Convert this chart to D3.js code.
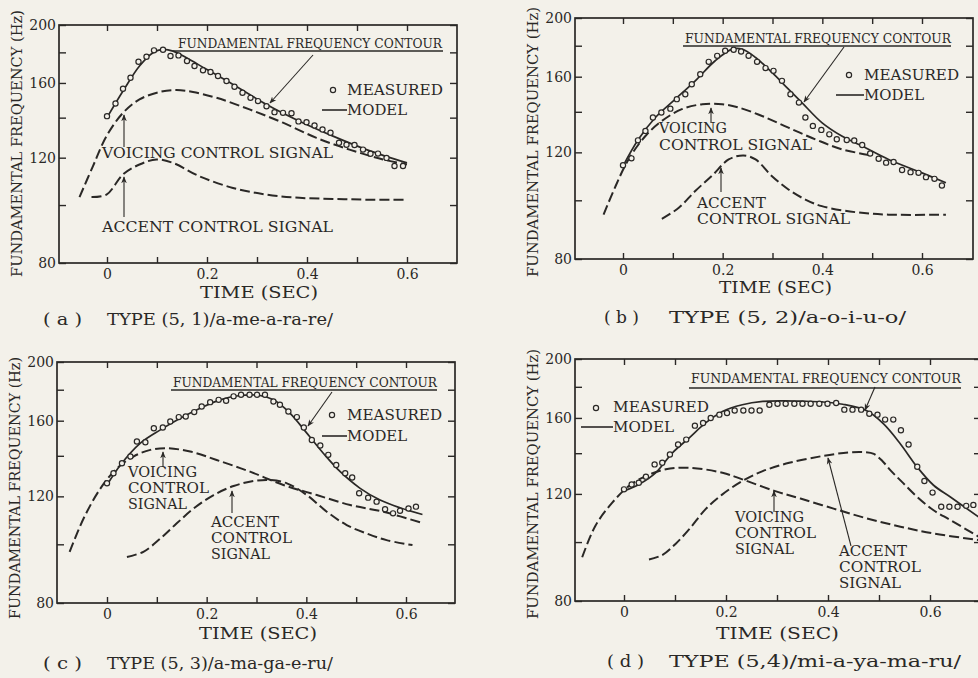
<!DOCTYPE html>
<html>
<head>
<meta charset="utf-8">
<script src="https://cdn.jsdelivr.net/npm/d3@7"></script>
<style>
  html, body { margin: 0; padding: 0; background: #f3f1ea; }
  svg { display: block; }
  text { font-family: "DejaVu Serif", "Liberation Serif", serif; fill: #2a2826; }
</style>
</head>
<body>
<svg id="chart" width="978" height="678"></svg>
<script>
// time (sec), fundamental frequency (Hz)
const measuredA = [[0,140.8],[0.017,147.8],[0.032,156.5],[0.047,163.2],[0.063,173.6],[0.079,177.0],[0.094,181.4],[0.112,181.8],[0.127,177.5],[0.143,177.9],[0.160,174.1],[0.175,170.8],[0.192,168.0],[0.207,166.9],[0.222,164.3],[0.239,161.2],[0.255,157.7],[0.271,154.1],[0.287,151.1],[0.302,149.2],[0.319,146.3],[0.335,143.0],[0.352,142.6],[0.369,142.4],[0.383,138.0],[0.399,137.6],[0.415,135.8],[0.431,133.8],[0.447,132.1],[0.464,127.1],[0.479,126.1],[0.495,126.0],[0.512,123.8],[0.527,121.8],[0.542,121.9],[0.559,119.9],[0.575,116.2],[0.592,116.2]];
const modelA = [[0,140.0],[0.032,155.1],[0.065,170.8],[0.092,179.8],[0.112,182.1],[0.132,180.9],[0.159,176.3],[0.199,168.6],[0.252,159.1],[0.319,147.3],[0.385,138.1],[0.452,130.4],[0.519,123.8],[0.6,117.6]];
const voicingA = [[-0.055,103.1],[-0.028,116.2],[-0.001,130.4],[0.032,142.6],[0.065,150.2],[0.105,154.5],[0.139,155.7],[0.172,154.5],[0.219,151.1],[0.285,144.5],[0.352,137.3],[0.419,129.5],[0.485,123.8],[0.552,119.2],[0.6,116.9]];
const accentA = [[-0.031,103.1],[-0.001,104.1],[0.032,112.5],[0.065,116.9],[0.099,119.2],[0.132,117.6],[0.185,111.7],[0.252,106.8],[0.319,104.1],[0.385,102.8],[0.452,102.4],[0.519,102.1],[0.6,102.1]];

const measuredB = [[0,114.3],[0.017,117.3],[0.030,125.6],[0.045,130.2],[0.060,137.0],[0.077,139.6],[0.095,141.7],[0.108,146.9],[0.125,149.7],[0.138,155.5],[0.155,161.5],[0.172,169.3],[0.189,173.2],[0.205,176.6],[0.222,177.3],[0.237,176.1],[0.252,173.2],[0.269,169.3],[0.286,165.3],[0.302,163.6],[0.319,157.5],[0.336,149.7],[0.353,145.0],[0.366,137.0],[0.381,132.7],[0.398,130.7],[0.414,128.5],[0.429,126.1],[0.449,125.8],[0.464,125.5],[0.480,123.4],[0.496,119.5],[0.513,117.1],[0.528,115.4],[0.543,115.7],[0.560,112.2],[0.577,111.3],[0.593,111.0],[0.608,109.2],[0.625,108.5],[0.640,105.8]];
const modelB = [[0,113.9],[0.031,126.1],[0.065,137.0],[0.105,146.9],[0.145,157.5],[0.185,170.0],[0.219,177.7],[0.239,177.7],[0.266,172.1],[0.299,162.6],[0.332,152.6],[0.359,145.0],[0.399,134.4],[0.439,127.7],[0.480,122.9],[0.533,116.8],[0.600,111.0],[0.648,106.9]];
const voicingB = [[-0.039,94.7],[-0.015,105.5],[0.011,116.8],[0.045,127.7],[0.078,135.2],[0.118,141.4],[0.159,144.1],[0.199,144.1],[0.232,142.3],[0.279,137.8],[0.332,131.8],[0.386,126.1],[0.439,121.4],[0.500,118.6]];
const accentB = [[0.078,93.2],[0.112,97.2],[0.145,103.6],[0.179,109.9],[0.212,116.8],[0.242,118.6],[0.266,116.8],[0.299,109.6],[0.332,104.2],[0.366,100.3],[0.399,97.8],[0.466,95.6],[0.533,94.7],[0.648,94.7]];

const measuredC = [[0,126.1],[0.013,131.0],[0.030,136.1],[0.047,139.6],[0.060,147.8],[0.077,147.4],[0.094,155.5],[0.112,155.9],[0.127,159.5],[0.144,162.2],[0.158,162.6],[0.175,165.3],[0.190,168.9],[0.207,171.7],[0.224,173.2],[0.239,172.6],[0.254,175.5],[0.269,176.6],[0.286,176.6],[0.301,176.6],[0.317,176.6],[0.334,172.1],[0.347,170.0],[0.364,165.7],[0.381,162.2],[0.395,155.9],[0.411,148.7],[0.428,145.6],[0.444,140.5],[0.460,135.2],[0.478,131.0],[0.492,128.9],[0.506,121.4],[0.524,119.4],[0.541,117.6],[0.558,114.3],[0.574,112.5],[0.588,113.6],[0.605,114.6],[0.620,115.4]];
const modelC = [[0,125.3],[0.027,135.2],[0.067,146.9],[0.107,154.5],[0.147,161.5],[0.187,167.8],[0.227,173.2],[0.267,176.1],[0.307,176.1],[0.334,173.2],[0.367,164.7],[0.401,152.6],[0.434,141.4],[0.468,131.8],[0.508,123.7],[0.548,118.3],[0.588,114.9],[0.633,112.0]];
const voicingC = [[-0.075,97.2],[-0.047,110.3],[-0.013,123.7],[0.020,133.5],[0.053,139.6],[0.087,143.2],[0.120,144.1],[0.167,142.3],[0.220,137.8],[0.287,131.8],[0.354,125.3],[0.421,120.6],[0.488,116.1],[0.554,113.2],[0.635,108.3]];
const accentC = [[0.040,95.3],[0.073,97.2],[0.107,102.2],[0.140,108.3],[0.174,114.6],[0.214,120.6],[0.254,124.8],[0.294,127.2],[0.327,127.7],[0.361,126.1],[0.401,120.6],[0.441,113.2],[0.481,107.6],[0.521,104.2],[0.561,101.6],[0.613,99.7]];

const measuredD = [[0,122.1],[0.015,124.4],[0.029,125.2],[0.043,128.1],[0.060,134.2],[0.075,135.0],[0.090,139.3],[0.106,144.7],[0.122,147.4],[0.139,155.4],[0.155,157.0],[0.170,160.0],[0.187,162.0],[0.202,163.0],[0.217,164.6],[0.234,164.6],[0.250,164.6],[0.266,164.6],[0.285,168.2],[0.301,168.8],[0.317,168.8],[0.334,168.8],[0.350,168.8],[0.366,168.8],[0.383,168.8],[0.399,168.8],[0.416,169.3],[0.432,165.1],[0.448,165.1],[0.465,165.1],[0.481,162.6],[0.497,162.0],[0.512,159.0],[0.528,159.0],[0.543,152.7],[0.558,144.7],[0.575,133.0],[0.589,126.0],[0.605,120.6],[0.622,114.3],[0.638,114.3],[0.654,114.3],[0.671,114.7],[0.685,115.1]];
const modelD = [[0,121.4],[0.029,124.4],[0.062,130.0],[0.095,140.2],[0.128,148.4],[0.160,157.0],[0.193,164.0],[0.232,168.2],[0.272,170.3],[0.311,170.7],[0.350,170.5],[0.389,170.0],[0.429,168.5],[0.476,164.4],[0.509,156.4],[0.542,145.0],[0.575,132.8],[0.607,124.0],[0.640,118.6],[0.695,110.0]];
const voicingD = [[-0.082,94.4],[-0.056,106.4],[-0.023,116.1],[0.010,123.7],[0.043,128.4],[0.082,131.7],[0.128,132.5],[0.193,130.0],[0.232,126.8],[0.295,121.4],[0.346,117.9],[0.411,113.5],[0.476,109.4],[0.542,106.0],[0.607,103.3],[0.695,100.8]];
const accentD = [[0.049,93.6],[0.075,95.2],[0.101,99.3],[0.128,105.0],[0.160,113.3],[0.193,119.8],[0.232,126.0],[0.272,130.8],[0.324,135.0],[0.389,138.5],[0.440,140.4],[0.470,140.6],[0.490,139.6],[0.507,135.8],[0.524,130.8],[0.545,125.6],[0.575,118.6],[0.607,112.8],[0.640,108.7],[0.695,102.1]];

const yTicks = [80, 100, 120, 140, 160, 180, 200];
const yLabels = [80, 120, 160, 200];
const xTicks = [0, 0.1, 0.2, 0.3, 0.4, 0.5, 0.6];
const xLabels = [0, 0.2, 0.4, 0.6];

const ink = "#2a2826";
const paper = "#f3f1ea";
const svg = d3.select("#chart");

svg.append("defs").append("marker")
    .attr("id", "arrow")
    .attr("viewBox", "0 0 10 10")
    .attr("refX", 9).attr("refY", 5)
    .attr("markerWidth", 7).attr("markerHeight", 7)
    .attr("markerUnits", "userSpaceOnUse")
    .attr("orient", "auto")
    .append("path")
    .attr("d", "M0,1 L10,5 L0,9 L3,5 Z")
    .attr("fill", ink);

function label(g, x, y, str, size, width) {
    const t = g.append("text")
        .attr("x", x).attr("y", y)
        .attr("font-size", size)
        .text(str);
    if (width) t.attr("textLength", width).attr("lengthAdjust", "spacingAndGlyphs");
    return t;
}

function arrow(g, a) {
    g.append("line")
        .attr("x1", a[0]).attr("y1", a[1])
        .attr("x2", a[2]).attr("y2", a[3])
        .attr("stroke", ink).attr("stroke-width", 1.1)
        .attr("marker-end", "url(#arrow)");
}

const panels = [
    { id: "a", measured: measuredA, model: modelA, voicing: voicingA, accent: accentA,
      x0: 107, x6: 407, left: 59, right: 457, top: 25, bottom: 263,
      ylab: [22, 143.5, 267], time: [200, 298, 118],
      cap: [43, 39, 107, 226, 325, "TYPE (5, 1)/a-me-a-ra-re/"],
      ffc: [178, 48, 264, 51, 173, 443], ffcArrow: [313, 55, 270, 103],
      leg: [333, 90, 347, 95, 96, 322, 110, 115, 60],
      voice: [[102, 158, "VOICING CONTROL SIGNAL", 231]], voiceArrow: [124, 147, 124, 115],
      acc: [[102, 232, "ACCENT CONTROL SIGNAL", 231]], accArrow: [124, 217, 124, 177] },
    { id: "b", measured: measuredB, model: modelB, voicing: voicingB, accent: accentB,
      x0: 623, x6: 922, left: 575, right: 973, top: 18, bottom: 259,
      ylab: [538, 142, 270], time: [719, 293, 113],
      cap: [604, 35, 669, 237, 323, "TYPE (5, 2)/a-o-i-u-o/"],
      ffc: [685, 43, 266, 46, 683, 951], ffcArrow: [844, 47, 804, 102],
      leg: [849, 75, 864, 80, 95, 836, 95, 100, 60],
      voice: [[659, 133, "VOICING", 68], [659, 150, "CONTROL SIGNAL", 153]], voiceArrow: [711, 123, 711, 108],
      acc: [[697, 208, "ACCENT", 69], [697, 224, "CONTROL SIGNAL", 153]], accArrow: [721, 192, 721, 168] },
    { id: "c", measured: measuredC, model: modelC, voicing: voicingC, accent: accentC,
      x0: 107, x6: 406, left: 57, right: 455, top: 362, bottom: 603,
      ylab: [20, 488, 262], time: [199, 639, 118],
      cap: [43, 39, 107, 226, 669, "TYPE (5, 3)/a-ma-ga-e-ru/"],
      ffc: [173, 387, 264, 390, 171, 437], ffcArrow: [332, 392, 308, 426],
      leg: [332, 415, 347, 420, 95, 322, 436, 441, 60],
      voice: [[128, 477, "VOICING", 69], [128, 493, "CONTROL", 81], [128, 509, "SIGNAL", 59]], voiceArrow: [163, 467, 163, 452],
      acc: [[211, 527, "ACCENT", 68], [211, 543, "CONTROL", 81], [211, 559, "SIGNAL", 59]], accArrow: [232, 513, 232, 491] },
    { id: "d", measured: measuredD, model: modelD, voicing: voicingD, accent: accentD,
      x0: 624, x6: 930, left: 575, right: 981, top: 359, bottom: 601,
      ylab: [538, 484, 270], time: [716, 639, 123],
      cap: [607, 37, 669, 292, 667, "TYPE (5,4)/mi-a-ya-ma-ru/"],
      ffc: [691, 383, 270, 388, 689, 961], ffcArrow: [875, 387, 865, 410],
      leg: [596, 408, 613, 412, 96, 581, 427, 432, 61],
      voice: [[735, 522, "VOICING", 69], [735, 538, "CONTROL", 81], [735, 554, "SIGNAL", 59]], voiceArrow: [774, 512, 774, 491],
      acc: [[839, 556, "ACCENT", 68], [839, 572, "CONTROL", 82], [839, 588, "SIGNAL", 62]], accArrow: [851, 546, 828, 458] }
];

panels.forEach(p => {
    const g = svg.append("g");
    const x = d3.scaleLinear().domain([0, 0.6]).range([p.x0, p.x6]);
    const y = d3.scaleLog().domain([80, 200]).range([p.bottom, p.top]);

    // axes: ticks point inward on all four sides
    const fmtY = d => yLabels.includes(d) ? d : "";
    const fmtX = d => xLabels.includes(d) ? (d === 0 ? "0" : d3.format(".1f")(d)) : "";

    const axL = g.append("g").attr("transform", `translate(${p.left},0)`)
        .call(d3.axisLeft(y).tickValues(yTicks).tickSize(-7).tickPadding(3).tickFormat(fmtY));
    const axR = g.append("g").attr("transform", `translate(${p.right},0)`)
        .call(d3.axisRight(y).tickValues(yTicks).tickSize(-7).tickFormat(""));
    const axB = g.append("g").attr("transform", `translate(0,${p.bottom})`)
        .call(d3.axisBottom(x).tickValues(xTicks).tickSize(-6).tickPadding(6).tickFormat(fmtX));
    const axT = g.append("g").attr("transform", `translate(0,${p.top})`)
        .call(d3.axisTop(x).tickValues(xTicks).tickSize(-6).tickFormat(""));
    [axL, axR, axB, axT].forEach(a => {
        a.select(".domain").remove();
        a.selectAll("line").attr("stroke", ink).attr("stroke-width", 1.4);
        a.selectAll("text").attr("font-size", 14).attr("fill", ink)
            .attr("font-family", "'DejaVu Serif', serif");
    });

    g.append("rect")
        .attr("x", p.left).attr("y", p.top)
        .attr("width", p.right - p.left).attr("height", p.bottom - p.top)
        .attr("fill", "none").attr("stroke", ink).attr("stroke-width", 1.7);

    const line = d3.line().x(d => x(d[0])).y(d => y(d[1])).curve(d3.curveCatmullRom);

    [p.voicing, p.accent].forEach(s => {
        g.append("path").datum(s).attr("d", line)
            .attr("fill", "none").attr("stroke", ink).attr("stroke-width", 2)
            .attr("stroke-dasharray", "10,4");
    });
    g.append("path").datum(p.model).attr("d", line)
        .attr("fill", "none").attr("stroke", ink).attr("stroke-width", 1.7);

    g.selectAll("circle.m").data(p.measured).enter().append("circle")
        .attr("class", "m")
        .attr("cx", d => x(d[0])).attr("cy", d => y(d[1]))
        .attr("r", 2.6)
        .attr("fill", paper).attr("stroke", ink).attr("stroke-width", 1.2);

    // y axis title
    g.append("text")
        .attr("transform", `translate(${p.ylab[0]},${p.ylab[1]}) rotate(-90)`)
        .attr("text-anchor", "middle")
        .attr("font-size", 15)
        .attr("textLength", p.ylab[2]).attr("lengthAdjust", "spacingAndGlyphs")
        .text("FUNDAMENTAL FREQUENCY (Hz)");

    label(g, p.time[0], p.time[1], "TIME (SEC)", 16, p.time[2]);
    label(g, p.cap[0], p.cap[4], `( ${p.id} )`, 16, p.cap[1]);
    label(g, p.cap[2], p.cap[4], p.cap[5], 16, p.cap[3]);

    // fundamental frequency contour label
    label(g, p.ffc[0], p.ffc[1], "FUNDAMENTAL FREQUENCY CONTOUR", 13, p.ffc[2]);
    g.append("line")
        .attr("x1", p.ffc[4]).attr("x2", p.ffc[5])
        .attr("y1", p.ffc[3]).attr("y2", p.ffc[3])
        .attr("stroke", ink).attr("stroke-width", 1.3);
    arrow(g, p.ffcArrow);

    // legend
    const L = p.leg;
    g.append("circle").attr("cx", L[0]).attr("cy", L[1]).attr("r", 2.6)
        .attr("fill", paper).attr("stroke", ink).attr("stroke-width", 1.2);
    label(g, L[2], L[3], "MEASURED", 14, L[4]);
    g.append("line").attr("x1", L[5]).attr("x2", L[2]).attr("y1", L[6]).attr("y2", L[6])
        .attr("stroke", ink).attr("stroke-width", 1.6);
    label(g, L[2], L[7], "MODEL", 14, L[8]);

    p.voice.forEach(v => label(g, v[0], v[1], v[2], 14, v[3]));
    arrow(g, p.voiceArrow);
    p.acc.forEach(v => label(g, v[0], v[1], v[2], 14, v[3]));
    arrow(g, p.accArrow);
});
</script>
</body>
</html>
